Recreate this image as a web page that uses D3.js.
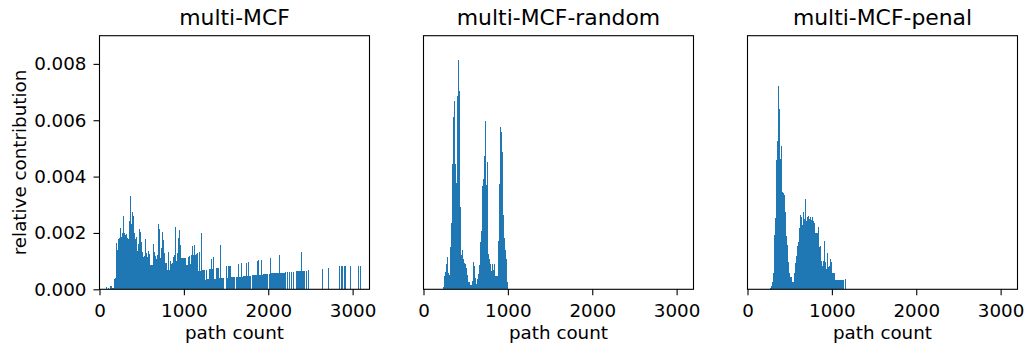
<!DOCTYPE html>
<html>
<head>
<meta charset="utf-8">
<script src="https://cdn.jsdelivr.net/npm/d3@7"></script>
<style>
  html, body { margin: 0; padding: 0; background: #fff; }
  svg { display: block; }
</style>
</head>
<body>
<div id="chart"></div>
<script>
// histogram bins: path count where the first bin starts, width of every bin,
// and the relative contribution of each bin in units of 1e-4
const BIN_WIDTH = 11.85;

const mcfStart = 77;
const mcfValues = [
  0.7, 0, 0.4, 0, 1.2, 1.2, 0.4, 0.4, 3.5, 4.0,
  16.6, 14.0, 17.8, 18.1, 21.9, 18.7, 20.1, 26.1, 19.9, 19.3,
  19.7, 18.1, 17.8, 24.4, 33.2, 23.1, 27.3, 26.1, 19.9, 17.8,
  18.7, 13.6, 16.1, 21.3, 20.5, 16.9, 13.4, 11.6, 11.9, 17.8,
  12.8, 11.6, 13.7, 12.4, 8.7, 8.7, 8.7, 16.1, 13.4, 11.9,
  10.7, 12.2, 23.1, 21.3, 11.0, 14.6, 20.5, 17.5, 12.8, 9.2,
  9.2, 6.9, 13.4, 6.9, 10.2, 8.9, 9.2, 11.6, 12.2,
  22.0, 10.1, 13.0, 18.1, 21.1, 15.8, 11.0, 11.0, 11.0, 11.0,
  11.0, 8.7, 8.7, 11.3, 11.9, 9.0, 12.2, 15.4, 12.2, 15.8,
  12.2, 12.6, 12.8, 6.5, 13.4, 6.5, 20.1, 6.9, 6.9, 6.9,
  3.3, 6.9, 3.7, 3.7, 7.2, 7.2, 10.8, 7.2, 11.3, 3.7,
  3.7, 7.5, 7.5, 7.5, 3.9, 15.8, 3.9, 3.9, 3.9, 0,
  0, 8.3, 3.9, 8.3, 8.3, 8.3, 4.3, 4.3, 4.3, 4.3,
  0, 4.3, 4.3, 9.0, 4.3, 4.3, 9.5, 4.3, 4.7, 4.7,
  4.7, 9.5, 4.7, 9.7, 4.7, 4.7, 0, 5.2, 5.2, 5.2,
  5.2, 5.2, 10.2, 10.4, 5.2, 5.2, 10.4, 5.2, 5.5, 5.5,
  5.5, 5.5, 5.5, 0, 5.5, 11.1, 5.8, 5.8, 5.8, 5.8,
  5.8, 5.8, 5.8, 5.8, 12.0, 5.8, 5.8, 5.8, 5.8, 5.8,
  6.2, 0, 6.2, 0, 6.2, 0, 6.2, 0, 6.2, 0,
  0, 6.5, 6.5, 6.5, 6.5, 6.5, 13.3, 6.5, 6.5, 6.5,
  0, 6.5, 0, 6.9, 0, 0, 0, 0, 0, 0,
  0, 0, 0, 0, 0, 0, 0, 7.2, 0, 0,
  0, 0, 0, 7.6, 0, 0, 0, 0, 0, 0,
  0, 0, 0, 0, 8.1, 0, 8.1, 8.1, 0, 8.1,
  8.1, 0, 0, 0, 0, 8.3, 0, 0, 0, 0,
  0, 0, 0, 8.3, 0, 8.3
];

const randomStart = 231;
const randomValues = [
  0.9, 4.7, 6.3, 8.9, 11.6, 5.7, 5.1, 14.9, 23.5, 44.4,
  61.1, 67.0, 44.4, 37.7, 68.5, 81.2, 70.3, 29.2, 12.2, 14.0,
  10.7, 9.5, 8.9, 7.5, 5.1, 2.7, 2.7, 1.5, 1.5, 3.1,
  9.6, 8.1, 3.9, 1.8, 3.7, 5.3, 8.7, 16.8, 20.7, 36.5,
  39.2, 47.4, 59.8, 36.9, 45.3, 12.6, 10.9, 8.9, 6.6, 8.9,
  6.9, 8.9, 4.7, 4.7, 4.7, 17.3, 37.3, 57.5, 55.9, 48.8,
  26.2, 18.1, 14.0, 10.7, 2.7
];

const penalStart = 267;
const penalValues = [
  0.6, 1.3, 2.7, 5.7, 19.3, 25.2, 46.0, 52.5, 72.3, 64.0,
  46.2, 50.7, 34.4, 34.1, 33.5, 27.3, 19.0, 15.8, 9.8, 5.7,
  4.5, 4.5, 2.7, 2.7, 5.9, 9.5, 11.9, 15.2, 16.9, 21.7,
  26.4, 25.8, 22.9, 27.3, 24.9, 32.1, 24.4, 25.6, 26.1, 24.9,
  25.8, 24.6, 25.8, 24.1, 23.5, 20.1, 20.1, 20.1, 22.0, 14.9,
  15.2, 10.2, 8.1, 10.2, 17.2, 9.8, 7.1, 13.0, 7.8, 8.1,
  10.7, 9.8, 5.7, 5.9, 5.9, 3.3, 3.3, 3.3, 3.3, 3.3,
  3.3, 3.3, 3.3, 3.3, 0, 3.6
];

const panelTitles = ['multi-MCF', 'multi-MCF-random', 'multi-MCF-penal'];
const xTicks = [0, 1000, 2000, 3000];
const yTicks = [0, 0.002, 0.004, 0.006, 0.008];
const xLabel = 'path count';
const yLabel = 'relative contribution';

const panels = [
  { title: panelTitles[0], start: mcfStart, values: mcfValues },
  { title: panelTitles[1], start: randomStart, values: randomValues },
  { title: panelTitles[2], start: penalStart, values: penalValues },
];

const width = 1025;
const height = 349;
const font = '"DejaVu Sans", Verdana, sans-serif';
const barColor = '#1f77b4';
const labelSize = 18.3;
const titleSize = 21.9;
const plotW = 270;
const plotH = 253.6;
const plotTop = 35.7;
const panelLefts = [99.5, 423.5, 747.5];

const x = d3.scaleLinear().domain([0, 3200]).range([0, plotW]);
const y = d3.scaleLinear().domain([0, 0.009]).range([plotH, 0]);

const svg = d3
  .select('#chart')
  .append('svg')
  .attr('width', width)
  .attr('height', height)
  .attr('viewBox', `0 0 ${width} ${height}`)
  .style('background', '#fff');

panels.forEach((panel, index) => {
  const bins = panel.values.map((v, i) => ({
    x0: panel.start + i * BIN_WIDTH,
    x1: panel.start + (i + 1) * BIN_WIDTH,
    value: v / 1e4,
  }));

  const g = svg
    .append('g')
    .attr('transform', `translate(${panelLefts[index]},${plotTop})`);

  /* Bars */
  g.selectAll('rect.bar')
    .data(bins.filter((d) => d.value > 0))
    .join('rect')
    .attr('class', 'bar')
    .attr('x', (d) => x(d.x0))
    .attr('width', (d) => x(d.x1) - x(d.x0))
    .attr('y', (d) => y(d.value))
    .attr('height', (d) => y(0) - y(d.value))
    .attr('fill', barColor)
    .attr('shape-rendering', 'crispEdges');

  /* X axis */
  const xAxis = g
    .append('g')
    .attr('transform', `translate(0,${plotH})`)
    .call(
      d3.axisBottom(x).tickValues(xTicks).tickSize(6).tickSizeOuter(0).tickPadding(8.5).tickFormat(d3.format('d'))
    );
  xAxis.select('.domain').remove();
  xAxis.selectAll('line').attr('stroke', '#000').attr('stroke-width', 1.1);
  xAxis
    .selectAll('text')
    .attr('fill', '#000')
    .attr('font-family', font)
    .attr('font-size', labelSize);

  /* Y axis, left panel only */
  if (index === 0) {
    const yAxis = g
      .append('g')
      .call(d3.axisLeft(y).tickValues(yTicks).tickSize(6).tickSizeOuter(0).tickPadding(7).tickFormat(d3.format('.3f')));
    yAxis.select('.domain').remove();
    yAxis.selectAll('line').attr('stroke', '#000').attr('stroke-width', 1.1);
    yAxis
      .selectAll('text')
      .attr('fill', '#000')
      .attr('font-family', font)
      .attr('font-size', labelSize);

    svg
      .append('text')
      .attr('transform', `translate(25.5,${plotTop + plotH / 2}) rotate(-90)`)
      .attr('text-anchor', 'middle')
      .attr('font-family', font)
      .attr('font-size', labelSize)
      .attr('fill', '#000')
      .text(yLabel);
  }

  /* Frame */
  g.append('rect')
    .attr('width', plotW)
    .attr('height', plotH)
    .attr('fill', 'none')
    .attr('stroke', '#000')
    .attr('stroke-width', 1.1);

  /* Title */
  g.append('text')
    .attr('x', plotW / 2)
    .attr('y', -10.5)
    .attr('text-anchor', 'middle')
    .attr('font-family', font)
    .attr('font-size', titleSize)
    .attr('fill', '#000')
    .text(panel.title);

  /* X label */
  g.append('text')
    .attr('x', plotW / 2)
    .attr('y', plotH + 50)
    .attr('text-anchor', 'middle')
    .attr('font-family', font)
    .attr('font-size', labelSize)
    .attr('fill', '#000')
    .text(xLabel);
});
</script>
</body>
</html>
